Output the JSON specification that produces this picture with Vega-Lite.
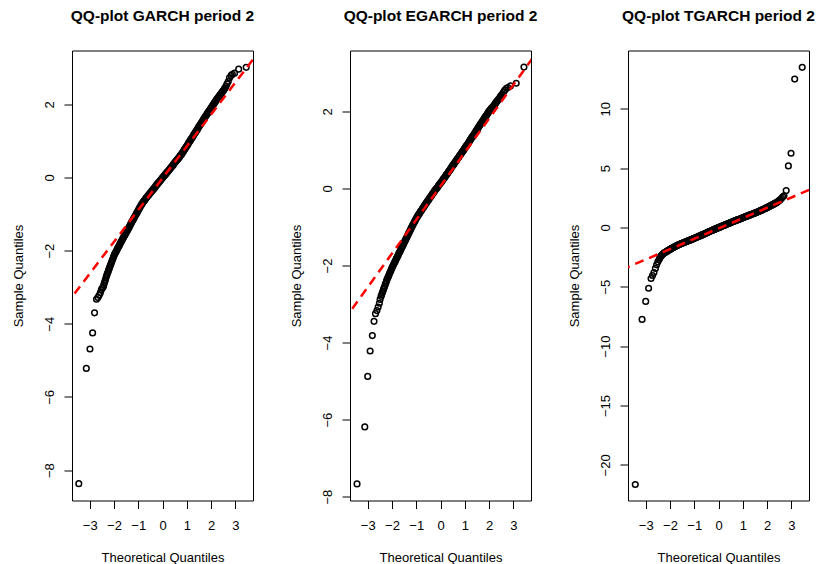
{
  "$schema": "https://vega.github.io/schema/vega-lite/v6.json",
  "padding": {"left": 11, "top": 8.5, "right": 5, "bottom": 30},
  "bounds": "flush",
  "spacing": 97,
  "config": {
    "view": {"stroke": "black", "strokeWidth": 1},
    "font": "Liberation Sans",
    "axis": {"domain": false, "grid": false, "ticks": true, "tickColor": "black", "tickSize": 8, "tickWidth": 1, "labelColor": "black", "labelFont": "Liberation Sans", "labelFontSize": 13, "labelOverlap": false, "labelFlush": false, "labelSeparation": 0, "titleFont": "Liberation Sans", "titleFontSize": 13, "titleFontWeight": "normal", "titleColor": "black"},
    "axisX": {"labelPadding": 11, "titleY": 61, "titleBaseline": "alphabetic", "labelOverlap": false},
    "axisY": {"labelAngle": 270, "labelAlign": "center", "labelBaseline": "bottom", "labelPadding": 8, "titleX": -50, "titleBaseline": "alphabetic", "titleAngle": 270, "labelOverlap": false},
    "title": {"font": "Liberation Sans", "fontSize": 15.5, "fontWeight": "bold", "color": "black", "anchor": "middle", "baseline": "alphabetic", "offset": 26, "frame": "group"}
  },
  "datasets": {
    "garch": [
      {"x":-3.45,"y":-8.37},{"x":-3.14,"y":-5.22},{"x":-2.99,"y":-4.69},{"x":-2.88,"y":-4.25},{"x":-2.8,"y":-3.7},{"x":-2.72,"y":-3.33},{"x":-2.66,"y":-3.28},{"x":-2.61,"y":-3.22},{"x":-2.56,"y":-3.15},{"x":-2.52,"y":-3.07},{"x":-2.49,"y":-3.03},
      {"x":-2.45,"y":-3},{"x":-2.425,"y":-2.95},{"x":-2.4,"y":-2.89},{"x":-2.375,"y":-2.84},{"x":-2.35,"y":-2.79},{"x":-2.325,"y":-2.73},{"x":-2.3,"y":-2.68},{"x":-2.275,"y":-2.63},{"x":-2.25,"y":-2.59},{"x":-2.225,"y":-2.54},
      {"x":-2.2,"y":-2.5},{"x":-2.175,"y":-2.45},{"x":-2.15,"y":-2.41},{"x":-2.125,"y":-2.36},{"x":-2.1,"y":-2.32},{"x":-2.075,"y":-2.27},{"x":-2.05,"y":-2.23},{"x":-2.025,"y":-2.18},{"x":-2,"y":-2.14},{"x":-1.975,"y":-2.1},
      {"x":-1.95,"y":-2.07},{"x":-1.925,"y":-2.04},{"x":-1.9,"y":-2.01},{"x":-1.875,"y":-1.97},{"x":-1.85,"y":-1.94},{"x":-1.825,"y":-1.91},{"x":-1.8,"y":-1.88},{"x":-1.775,"y":-1.85},{"x":-1.75,"y":-1.82},{"x":-1.725,"y":-1.78},
      {"x":-1.7,"y":-1.75},{"x":-1.675,"y":-1.72},{"x":-1.65,"y":-1.69},{"x":-1.625,"y":-1.66},{"x":-1.6,"y":-1.63},{"x":-1.575,"y":-1.6},{"x":-1.55,"y":-1.57},{"x":-1.525,"y":-1.54},{"x":-1.5,"y":-1.51},{"x":-1.475,"y":-1.48},
      {"x":-1.45,"y":-1.45},{"x":-1.425,"y":-1.42},{"x":-1.4,"y":-1.39},{"x":-1.375,"y":-1.36},{"x":-1.35,"y":-1.33},{"x":-1.325,"y":-1.29},{"x":-1.3,"y":-1.26},{"x":-1.275,"y":-1.23},{"x":-1.25,"y":-1.2},{"x":-1.225,"y":-1.17},
      {"x":-1.2,"y":-1.14},{"x":-1.175,"y":-1.11},{"x":-1.15,"y":-1.08},{"x":-1.125,"y":-1.05},{"x":-1.1,"y":-1.02},{"x":-1.075,"y":-0.99},{"x":-1.05,"y":-0.96},{"x":-1.025,"y":-0.93},{"x":-1,"y":-0.9},{"x":-0.975,"y":-0.87},
      {"x":-0.95,"y":-0.84},{"x":-0.925,"y":-0.81},{"x":-0.9,"y":-0.78},{"x":-0.875,"y":-0.75},{"x":-0.85,"y":-0.73},{"x":-0.825,"y":-0.7},{"x":-0.8,"y":-0.67},{"x":-0.775,"y":-0.65},{"x":-0.75,"y":-0.63},{"x":-0.725,"y":-0.61},
      {"x":-0.7,"y":-0.59},{"x":-0.675,"y":-0.56},{"x":-0.65,"y":-0.54},{"x":-0.625,"y":-0.52},{"x":-0.6,"y":-0.5},{"x":-0.575,"y":-0.48},{"x":-0.55,"y":-0.46},{"x":-0.525,"y":-0.44},{"x":-0.5,"y":-0.42},{"x":-0.475,"y":-0.4},
      {"x":-0.45,"y":-0.38},{"x":-0.425,"y":-0.36},{"x":-0.4,"y":-0.34},{"x":-0.375,"y":-0.32},{"x":-0.35,"y":-0.3},{"x":-0.325,"y":-0.28},{"x":-0.3,"y":-0.26},{"x":-0.275,"y":-0.23},{"x":-0.25,"y":-0.21},{"x":-0.225,"y":-0.19},
      {"x":-0.2,"y":-0.17},{"x":-0.175,"y":-0.15},{"x":-0.15,"y":-0.13},{"x":-0.125,"y":-0.11},{"x":-0.1,"y":-0.09},{"x":-0.075,"y":-0.07},{"x":-0.05,"y":-0.05},{"x":-0.025,"y":-0.03},{"x":0,"y":-0.01},{"x":0.025,"y":0.01},
      {"x":0.05,"y":0.03},{"x":0.075,"y":0.05},{"x":0.1,"y":0.07},{"x":0.125,"y":0.09},{"x":0.15,"y":0.11},{"x":0.175,"y":0.13},{"x":0.2,"y":0.15},{"x":0.225,"y":0.17},{"x":0.25,"y":0.19},{"x":0.275,"y":0.21},
      {"x":0.3,"y":0.23},{"x":0.325,"y":0.25},{"x":0.35,"y":0.27},{"x":0.375,"y":0.29},{"x":0.4,"y":0.31},{"x":0.425,"y":0.33},{"x":0.45,"y":0.35},{"x":0.475,"y":0.38},{"x":0.5,"y":0.4},{"x":0.525,"y":0.42},
      {"x":0.55,"y":0.44},{"x":0.575,"y":0.46},{"x":0.6,"y":0.48},{"x":0.625,"y":0.5},{"x":0.65,"y":0.52},{"x":0.675,"y":0.54},{"x":0.7,"y":0.56},{"x":0.725,"y":0.59},{"x":0.75,"y":0.61},{"x":0.775,"y":0.63},
      {"x":0.8,"y":0.65},{"x":0.825,"y":0.68},{"x":0.85,"y":0.7},{"x":0.875,"y":0.73},{"x":0.9,"y":0.76},{"x":0.925,"y":0.78},{"x":0.95,"y":0.81},{"x":0.975,"y":0.83},{"x":1,"y":0.86},{"x":1.025,"y":0.88},
      {"x":1.05,"y":0.91},{"x":1.075,"y":0.94},{"x":1.1,"y":0.97},{"x":1.125,"y":0.99},{"x":1.15,"y":1.02},{"x":1.175,"y":1.04},{"x":1.2,"y":1.07},{"x":1.225,"y":1.09},{"x":1.25,"y":1.12},{"x":1.275,"y":1.15},
      {"x":1.3,"y":1.18},{"x":1.325,"y":1.2},{"x":1.35,"y":1.23},{"x":1.375,"y":1.25},{"x":1.4,"y":1.28},{"x":1.425,"y":1.3},{"x":1.45,"y":1.33},{"x":1.475,"y":1.36},{"x":1.5,"y":1.39},{"x":1.525,"y":1.41},
      {"x":1.55,"y":1.44},{"x":1.575,"y":1.46},{"x":1.6,"y":1.49},{"x":1.625,"y":1.51},{"x":1.65,"y":1.54},{"x":1.675,"y":1.57},{"x":1.7,"y":1.6},{"x":1.725,"y":1.62},{"x":1.75,"y":1.65},{"x":1.775,"y":1.67},
      {"x":1.8,"y":1.7},{"x":1.825,"y":1.72},{"x":1.85,"y":1.75},{"x":1.875,"y":1.77},{"x":1.9,"y":1.8},{"x":1.925,"y":1.82},{"x":1.95,"y":1.85},{"x":1.975,"y":1.87},{"x":2,"y":1.9},{"x":2.025,"y":1.92},
      {"x":2.05,"y":1.95},{"x":2.075,"y":1.97},{"x":2.1,"y":2},{"x":2.125,"y":2.02},{"x":2.15,"y":2.05},{"x":2.175,"y":2.07},{"x":2.2,"y":2.1},{"x":2.225,"y":2.12},{"x":2.25,"y":2.15},{"x":2.275,"y":2.17},
      {"x":2.3,"y":2.19},{"x":2.325,"y":2.21},{"x":2.35,"y":2.24},{"x":2.375,"y":2.26},{"x":2.4,"y":2.28},{"x":2.425,"y":2.3},{"x":2.45,"y":2.33},{"x":2.475,"y":2.35},{"x":2.5,"y":2.37},{"x":2.525,"y":2.39},{"x":2.55,"y":2.42},
      {"x":2.58,"y":2.45},{"x":2.62,"y":2.5},{"x":2.66,"y":2.56},{"x":2.71,"y":2.62},{"x":2.76,"y":2.72},{"x":2.83,"y":2.79},{"x":2.88,"y":2.82},{"x":2.97,"y":2.85},{"x":3.14,"y":2.96},{"x":3.45,"y":3.01}
    ],
    "egarch": [
      {"x":-3.44,"y":-7.67},{"x":-3.12,"y":-6.19},{"x":-3,"y":-4.88},{"x":-2.9,"y":-4.22},{"x":-2.81,"y":-3.82},{"x":-2.74,"y":-3.45},{"x":-2.68,"y":-3.25},{"x":-2.62,"y":-3.17},{"x":-2.57,"y":-3.08},{"x":-2.52,"y":-2.98},{"x":-2.49,"y":-2.88},
      {"x":-2.45,"y":-2.8},{"x":-2.425,"y":-2.76},{"x":-2.4,"y":-2.71},{"x":-2.375,"y":-2.67},{"x":-2.35,"y":-2.62},{"x":-2.325,"y":-2.58},{"x":-2.3,"y":-2.54},{"x":-2.275,"y":-2.49},{"x":-2.25,"y":-2.45},{"x":-2.225,"y":-2.4},
      {"x":-2.2,"y":-2.36},{"x":-2.175,"y":-2.32},{"x":-2.15,"y":-2.29},{"x":-2.125,"y":-2.25},{"x":-2.1,"y":-2.21},{"x":-2.075,"y":-2.17},{"x":-2.05,"y":-2.14},{"x":-2.025,"y":-2.1},{"x":-2,"y":-2.06},{"x":-1.975,"y":-2.03},
      {"x":-1.95,"y":-2},{"x":-1.925,"y":-1.96},{"x":-1.9,"y":-1.93},{"x":-1.875,"y":-1.9},{"x":-1.85,"y":-1.87},{"x":-1.825,"y":-1.83},{"x":-1.8,"y":-1.8},{"x":-1.775,"y":-1.77},{"x":-1.75,"y":-1.74},{"x":-1.725,"y":-1.7},
      {"x":-1.7,"y":-1.67},{"x":-1.675,"y":-1.64},{"x":-1.65,"y":-1.61},{"x":-1.625,"y":-1.57},{"x":-1.6,"y":-1.54},{"x":-1.575,"y":-1.51},{"x":-1.55,"y":-1.48},{"x":-1.525,"y":-1.44},{"x":-1.5,"y":-1.41},{"x":-1.475,"y":-1.38},
      {"x":-1.45,"y":-1.35},{"x":-1.425,"y":-1.31},{"x":-1.4,"y":-1.28},{"x":-1.375,"y":-1.25},{"x":-1.35,"y":-1.22},{"x":-1.325,"y":-1.18},{"x":-1.3,"y":-1.15},{"x":-1.275,"y":-1.12},{"x":-1.25,"y":-1.09},{"x":-1.225,"y":-1.05},
      {"x":-1.2,"y":-1.02},{"x":-1.175,"y":-0.99},{"x":-1.15,"y":-0.96},{"x":-1.125,"y":-0.93},{"x":-1.1,"y":-0.9},{"x":-1.075,"y":-0.87},{"x":-1.05,"y":-0.84},{"x":-1.025,"y":-0.81},{"x":-1,"y":-0.78},{"x":-0.975,"y":-0.75},
      {"x":-0.95,"y":-0.73},{"x":-0.925,"y":-0.7},{"x":-0.9,"y":-0.68},{"x":-0.875,"y":-0.65},{"x":-0.85,"y":-0.63},{"x":-0.825,"y":-0.6},{"x":-0.8,"y":-0.58},{"x":-0.775,"y":-0.56},{"x":-0.75,"y":-0.53},{"x":-0.725,"y":-0.51},
      {"x":-0.7,"y":-0.49},{"x":-0.675,"y":-0.46},{"x":-0.65,"y":-0.44},{"x":-0.625,"y":-0.41},{"x":-0.6,"y":-0.39},{"x":-0.575,"y":-0.37},{"x":-0.55,"y":-0.34},{"x":-0.525,"y":-0.32},{"x":-0.5,"y":-0.3},{"x":-0.475,"y":-0.28},
      {"x":-0.45,"y":-0.25},{"x":-0.425,"y":-0.23},{"x":-0.4,"y":-0.21},{"x":-0.375,"y":-0.19},{"x":-0.35,"y":-0.16},{"x":-0.325,"y":-0.14},{"x":-0.3,"y":-0.12},{"x":-0.275,"y":-0.1},{"x":-0.25,"y":-0.07},{"x":-0.225,"y":-0.05},
      {"x":-0.2,"y":-0.03},{"x":-0.175,"y":-0.01},{"x":-0.15,"y":0.01},{"x":-0.125,"y":0.03},{"x":-0.1,"y":0.05},{"x":-0.075,"y":0.08},{"x":-0.05,"y":0.1},{"x":-0.025,"y":0.12},{"x":0,"y":0.14},{"x":0.025,"y":0.16},
      {"x":0.05,"y":0.18},{"x":0.075,"y":0.2},{"x":0.1,"y":0.23},{"x":0.125,"y":0.25},{"x":0.15,"y":0.27},{"x":0.175,"y":0.29},{"x":0.2,"y":0.31},{"x":0.225,"y":0.34},{"x":0.25,"y":0.36},{"x":0.275,"y":0.38},
      {"x":0.3,"y":0.4},{"x":0.325,"y":0.43},{"x":0.35,"y":0.45},{"x":0.375,"y":0.47},{"x":0.4,"y":0.49},{"x":0.425,"y":0.52},{"x":0.45,"y":0.54},{"x":0.475,"y":0.57},{"x":0.5,"y":0.59},{"x":0.525,"y":0.61},
      {"x":0.55,"y":0.63},{"x":0.575,"y":0.66},{"x":0.6,"y":0.68},{"x":0.625,"y":0.7},{"x":0.65,"y":0.72},{"x":0.675,"y":0.75},{"x":0.7,"y":0.77},{"x":0.725,"y":0.79},{"x":0.75,"y":0.81},{"x":0.775,"y":0.84},
      {"x":0.8,"y":0.86},{"x":0.825,"y":0.88},{"x":0.85,"y":0.9},{"x":0.875,"y":0.93},{"x":0.9,"y":0.95},{"x":0.925,"y":0.97},{"x":0.95,"y":0.99},{"x":0.975,"y":1.02},{"x":1,"y":1.04},{"x":1.025,"y":1.07},
      {"x":1.05,"y":1.09},{"x":1.075,"y":1.11},{"x":1.1,"y":1.13},{"x":1.125,"y":1.16},{"x":1.15,"y":1.18},{"x":1.175,"y":1.21},{"x":1.2,"y":1.23},{"x":1.225,"y":1.26},{"x":1.25,"y":1.28},{"x":1.275,"y":1.31},
      {"x":1.3,"y":1.33},{"x":1.325,"y":1.35},{"x":1.35,"y":1.37},{"x":1.375,"y":1.4},{"x":1.4,"y":1.42},{"x":1.425,"y":1.45},{"x":1.45,"y":1.47},{"x":1.475,"y":1.5},{"x":1.5,"y":1.52},{"x":1.525,"y":1.55},
      {"x":1.55,"y":1.57},{"x":1.575,"y":1.6},{"x":1.6,"y":1.62},{"x":1.625,"y":1.65},{"x":1.65,"y":1.67},{"x":1.675,"y":1.69},{"x":1.7,"y":1.71},{"x":1.725,"y":1.74},{"x":1.75,"y":1.76},{"x":1.775,"y":1.79},
      {"x":1.8,"y":1.81},{"x":1.825,"y":1.84},{"x":1.85,"y":1.86},{"x":1.875,"y":1.88},{"x":1.9,"y":1.9},{"x":1.925,"y":1.93},{"x":1.95,"y":1.95},{"x":1.975,"y":1.98},{"x":2,"y":2},{"x":2.025,"y":2.02},
      {"x":2.05,"y":2.04},{"x":2.075,"y":2.06},{"x":2.1,"y":2.08},{"x":2.125,"y":2.1},{"x":2.15,"y":2.11},{"x":2.175,"y":2.13},{"x":2.2,"y":2.15},{"x":2.225,"y":2.17},{"x":2.25,"y":2.19},{"x":2.275,"y":2.22},
      {"x":2.3,"y":2.24},{"x":2.325,"y":2.26},{"x":2.35,"y":2.28},{"x":2.375,"y":2.3},{"x":2.4,"y":2.32},{"x":2.425,"y":2.34},{"x":2.45,"y":2.36},{"x":2.475,"y":2.39},{"x":2.5,"y":2.41},{"x":2.525,"y":2.43},{"x":2.55,"y":2.45},
      {"x":2.6,"y":2.5},{"x":2.65,"y":2.55},{"x":2.72,"y":2.6},{"x":2.78,"y":2.62},{"x":2.88,"y":2.66},{"x":3.12,"y":2.73},{"x":3.44,"y":3.15}
    ],
    "tgarch": [
      {"x":-3.43,"y":-21.65},{"x":-3.15,"y":-7.75},{"x":-3,"y":-6.23},{"x":-2.88,"y":-5.12},{"x":-2.78,"y":-4.3},{"x":-2.72,"y":-4.05},{"x":-2.66,"y":-3.8},{"x":-2.6,"y":-3.45},{"x":-2.55,"y":-3.15},{"x":-2.5,"y":-2.9},
      {"x":-2.45,"y":-2.7},{"x":-2.425,"y":-2.6},{"x":-2.4,"y":-2.5},{"x":-2.375,"y":-2.43},{"x":-2.35,"y":-2.37},{"x":-2.325,"y":-2.31},{"x":-2.3,"y":-2.25},{"x":-2.275,"y":-2.21},{"x":-2.25,"y":-2.17},{"x":-2.225,"y":-2.13},
      {"x":-2.2,"y":-2.1},{"x":-2.175,"y":-2.07},{"x":-2.15,"y":-2.04},{"x":-2.125,"y":-2.01},{"x":-2.1,"y":-1.98},{"x":-2.075,"y":-1.94},{"x":-2.05,"y":-1.91},{"x":-2.025,"y":-1.88},{"x":-2,"y":-1.85},{"x":-1.975,"y":-1.82},
      {"x":-1.95,"y":-1.79},{"x":-1.925,"y":-1.76},{"x":-1.9,"y":-1.74},{"x":-1.875,"y":-1.71},{"x":-1.85,"y":-1.68},{"x":-1.825,"y":-1.65},{"x":-1.8,"y":-1.62},{"x":-1.775,"y":-1.59},{"x":-1.75,"y":-1.57},{"x":-1.725,"y":-1.54},
      {"x":-1.7,"y":-1.52},{"x":-1.675,"y":-1.49},{"x":-1.65,"y":-1.47},{"x":-1.625,"y":-1.44},{"x":-1.6,"y":-1.42},{"x":-1.575,"y":-1.4},{"x":-1.55,"y":-1.38},{"x":-1.525,"y":-1.36},{"x":-1.5,"y":-1.34},{"x":-1.475,"y":-1.31},
      {"x":-1.45,"y":-1.29},{"x":-1.425,"y":-1.27},{"x":-1.4,"y":-1.25},{"x":-1.375,"y":-1.23},{"x":-1.35,"y":-1.21},{"x":-1.325,"y":-1.19},{"x":-1.3,"y":-1.17},{"x":-1.275,"y":-1.15},{"x":-1.25,"y":-1.13},{"x":-1.225,"y":-1.11},
      {"x":-1.2,"y":-1.09},{"x":-1.175,"y":-1.07},{"x":-1.15,"y":-1.05},{"x":-1.125,"y":-1.03},{"x":-1.1,"y":-1.01},{"x":-1.075,"y":-0.98},{"x":-1.05,"y":-0.96},{"x":-1.025,"y":-0.94},{"x":-1,"y":-0.92},{"x":-0.975,"y":-0.9},
      {"x":-0.95,"y":-0.88},{"x":-0.925,"y":-0.85},{"x":-0.9,"y":-0.83},{"x":-0.875,"y":-0.81},{"x":-0.85,"y":-0.79},{"x":-0.825,"y":-0.76},{"x":-0.8,"y":-0.74},{"x":-0.775,"y":-0.72},{"x":-0.75,"y":-0.7},{"x":-0.725,"y":-0.67},
      {"x":-0.7,"y":-0.65},{"x":-0.675,"y":-0.63},{"x":-0.65,"y":-0.61},{"x":-0.625,"y":-0.58},{"x":-0.6,"y":-0.56},{"x":-0.575,"y":-0.53},{"x":-0.55,"y":-0.51},{"x":-0.525,"y":-0.49},{"x":-0.5,"y":-0.47},{"x":-0.475,"y":-0.44},
      {"x":-0.45,"y":-0.42},{"x":-0.425,"y":-0.39},{"x":-0.4,"y":-0.37},{"x":-0.375,"y":-0.35},{"x":-0.35,"y":-0.33},{"x":-0.325,"y":-0.3},{"x":-0.3,"y":-0.28},{"x":-0.275,"y":-0.26},{"x":-0.25,"y":-0.24},{"x":-0.225,"y":-0.21},
      {"x":-0.2,"y":-0.19},{"x":-0.175,"y":-0.17},{"x":-0.15,"y":-0.15},{"x":-0.125,"y":-0.13},{"x":-0.1,"y":-0.11},{"x":-0.075,"y":-0.08},{"x":-0.05,"y":-0.06},{"x":-0.025,"y":-0.04},{"x":0,"y":-0.02},{"x":0.025,"y":0},
      {"x":0.05,"y":0.02},{"x":0.075,"y":0.04},{"x":0.1,"y":0.06},{"x":0.125,"y":0.09},{"x":0.15,"y":0.11},{"x":0.175,"y":0.13},{"x":0.2,"y":0.15},{"x":0.225,"y":0.17},{"x":0.25,"y":0.19},{"x":0.275,"y":0.22},
      {"x":0.3,"y":0.24},{"x":0.325,"y":0.26},{"x":0.35,"y":0.28},{"x":0.375,"y":0.3},{"x":0.4,"y":0.32},{"x":0.425,"y":0.34},{"x":0.45,"y":0.36},{"x":0.475,"y":0.39},{"x":0.5,"y":0.41},{"x":0.525,"y":0.43},
      {"x":0.55,"y":0.45},{"x":0.575,"y":0.47},{"x":0.6,"y":0.49},{"x":0.625,"y":0.51},{"x":0.65,"y":0.53},{"x":0.675,"y":0.55},{"x":0.7,"y":0.57},{"x":0.725,"y":0.59},{"x":0.75,"y":0.61},{"x":0.775,"y":0.63},
      {"x":0.8,"y":0.65},{"x":0.825,"y":0.67},{"x":0.85,"y":0.69},{"x":0.875,"y":0.71},{"x":0.9,"y":0.73},{"x":0.925,"y":0.75},{"x":0.95,"y":0.77},{"x":0.975,"y":0.79},{"x":1,"y":0.81},{"x":1.025,"y":0.83},
      {"x":1.05,"y":0.85},{"x":1.075,"y":0.87},{"x":1.1,"y":0.89},{"x":1.125,"y":0.91},{"x":1.15,"y":0.93},{"x":1.175,"y":0.95},{"x":1.2,"y":0.97},{"x":1.225,"y":0.99},{"x":1.25,"y":1.01},{"x":1.275,"y":1.03},
      {"x":1.3,"y":1.05},{"x":1.325,"y":1.07},{"x":1.35,"y":1.09},{"x":1.375,"y":1.11},{"x":1.4,"y":1.13},{"x":1.425,"y":1.15},{"x":1.45,"y":1.17},{"x":1.475,"y":1.19},{"x":1.5,"y":1.21},{"x":1.525,"y":1.23},
      {"x":1.55,"y":1.25},{"x":1.575,"y":1.27},{"x":1.6,"y":1.29},{"x":1.625,"y":1.32},{"x":1.65,"y":1.34},{"x":1.675,"y":1.36},{"x":1.7,"y":1.38},{"x":1.725,"y":1.41},{"x":1.75,"y":1.43},{"x":1.775,"y":1.45},
      {"x":1.8,"y":1.47},{"x":1.825,"y":1.5},{"x":1.85,"y":1.52},{"x":1.875,"y":1.55},{"x":1.9,"y":1.57},{"x":1.925,"y":1.6},{"x":1.95,"y":1.62},{"x":1.975,"y":1.65},{"x":2,"y":1.67},{"x":2.025,"y":1.7},
      {"x":2.05,"y":1.72},{"x":2.075,"y":1.75},{"x":2.1,"y":1.78},{"x":2.125,"y":1.8},{"x":2.15,"y":1.83},{"x":2.175,"y":1.85},{"x":2.2,"y":1.88},{"x":2.225,"y":1.91},{"x":2.25,"y":1.94},{"x":2.275,"y":1.96},
      {"x":2.3,"y":1.99},{"x":2.325,"y":2.02},{"x":2.35,"y":2.05},{"x":2.375,"y":2.07},{"x":2.4,"y":2.1},{"x":2.425,"y":2.14},{"x":2.45,"y":2.18},{"x":2.475,"y":2.22},{"x":2.5,"y":2.27},{"x":2.525,"y":2.31},{"x":2.55,"y":2.35},
      {"x":2.6,"y":2.46},{"x":2.65,"y":2.58},{"x":2.7,"y":2.66},{"x":2.79,"y":3.1},{"x":2.88,"y":5.18},{"x":2.99,"y":6.25},{"x":3.14,"y":12.49},{"x":3.45,"y":13.48}
    ],
    "garchLine": [{"x": -4, "y": -3.50}, {"x": 4, "y": 3.46}],
    "egarchLine": [{"x": -4, "y": -3.44}, {"x": 4, "y": 3.56}],
    "tgarchLine": [{"x": -4, "y": -3.57}, {"x": 4, "y": 3.39}]
  },
  "hconcat": [
    {
      "title": "QQ-plot GARCH period 2",
      "width": 181,
      "height": 450,
      "layer": [
        {
          "data": {"name": "garch"},
          "mark": {"type": "point", "shape": "circle", "filled": false, "stroke": "black", "strokeWidth": 1.5, "size": 32, "opacity": 1, "clip": true},
          "encoding": {
            "x": {"field": "x", "type": "quantitative", "scale": {"domain": [-3.73, 3.73], "nice": false, "zero": false}, "axis": {"title": "Theoretical Quantiles", "values": [-3, -2, -1, 0, 1, 2, 3], "tickCount": 20, "format": "d", "labelOverlap": false}},
            "y": {"field": "y", "type": "quantitative", "scale": {"domain": [-8.83, 3.47], "nice": false, "zero": false}, "axis": {"title": "Sample Quantiles", "values": [-8, -6, -4, -2, 0, 2], "tickCount": 20, "format": "d", "labelOverlap": false}}
          }
        },
        {
          "data": {"name": "garchLine"},
          "mark": {"type": "line", "color": "#ff0000", "strokeWidth": 2.5, "strokeDash": [9, 6], "clip": true},
          "encoding": {
            "x": {"field": "x", "type": "quantitative"},
            "y": {"field": "y", "type": "quantitative"}
          }
        }
      ]
    },
    {
      "title": "QQ-plot EGARCH period 2",
      "width": 181,
      "height": 450,
      "layer": [
        {
          "data": {"name": "egarch"},
          "mark": {"type": "point", "shape": "circle", "filled": false, "stroke": "black", "strokeWidth": 1.5, "size": 32, "opacity": 1, "clip": true},
          "encoding": {
            "x": {"field": "x", "type": "quantitative", "scale": {"domain": [-3.73, 3.73], "nice": false, "zero": false}, "axis": {"title": "Theoretical Quantiles", "values": [-3, -2, -1, 0, 1, 2, 3], "tickCount": 20, "format": "d", "labelOverlap": false}},
            "y": {"field": "y", "type": "quantitative", "scale": {"domain": [-8.10, 3.58], "nice": false, "zero": false}, "axis": {"title": "Sample Quantiles", "values": [-8, -6, -4, -2, 0, 2], "tickCount": 20, "format": "d", "labelOverlap": false}}
          }
        },
        {
          "data": {"name": "egarchLine"},
          "mark": {"type": "line", "color": "#ff0000", "strokeWidth": 2.5, "strokeDash": [9, 6], "clip": true},
          "encoding": {
            "x": {"field": "x", "type": "quantitative"},
            "y": {"field": "y", "type": "quantitative"}
          }
        }
      ]
    },
    {
      "title": "QQ-plot TGARCH period 2",
      "width": 181,
      "height": 450,
      "layer": [
        {
          "data": {"name": "tgarch"},
          "mark": {"type": "point", "shape": "circle", "filled": false, "stroke": "black", "strokeWidth": 1.5, "size": 32, "opacity": 1, "clip": true},
          "encoding": {
            "x": {"field": "x", "type": "quantitative", "scale": {"domain": [-3.73, 3.73], "nice": false, "zero": false}, "axis": {"title": "Theoretical Quantiles", "values": [-3, -2, -1, 0, 1, 2, 3], "tickCount": 20, "format": "d", "labelOverlap": false}},
            "y": {"field": "y", "type": "quantitative", "scale": {"domain": [-23.0, 14.9], "nice": false, "zero": false}, "axis": {"title": "Sample Quantiles", "values": [-20, -15, -10, -5, 0, 5, 10], "tickCount": 20, "format": "d", "labelOverlap": false}}
          }
        },
        {
          "data": {"name": "tgarchLine"},
          "mark": {"type": "line", "color": "#ff0000", "strokeWidth": 2.5, "strokeDash": [9, 6], "clip": true},
          "encoding": {
            "x": {"field": "x", "type": "quantitative"},
            "y": {"field": "y", "type": "quantitative"}
          }
        }
      ]
    }
  ]
}
